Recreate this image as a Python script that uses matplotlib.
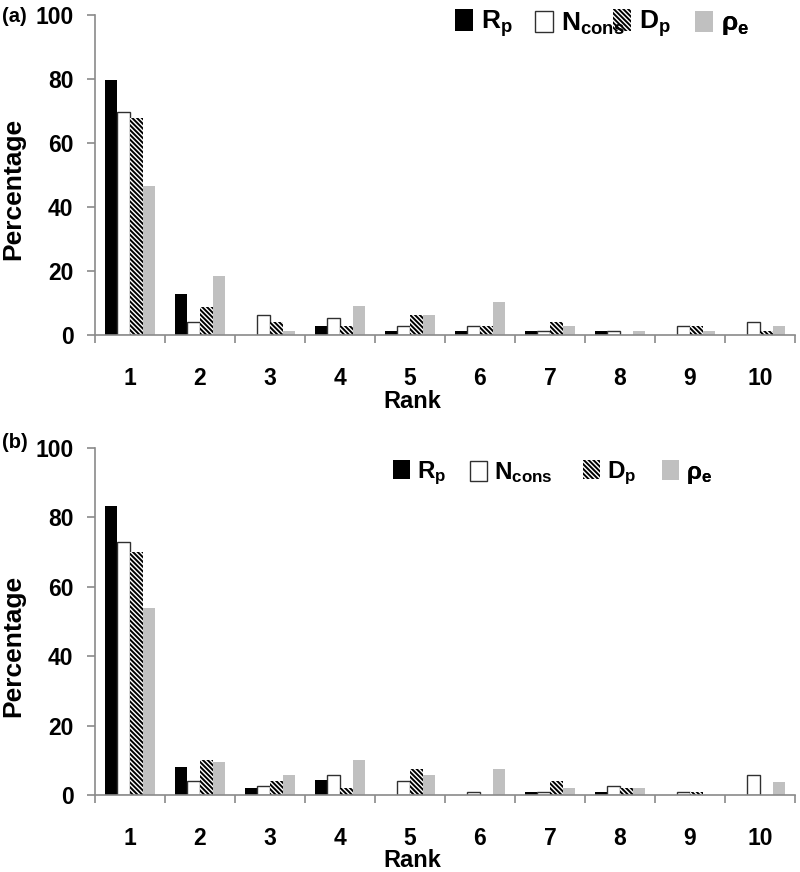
import matplotlib
matplotlib.use("Agg")
import matplotlib.pyplot as plt
from matplotlib.patches import Patch
import numpy as np

plt.rcParams['font.family'] = ['Liberation Sans', 'DejaVu Sans']
plt.rcParams['font.weight'] = 'bold'
plt.rcParams['mathtext.fontset'] = 'custom'
plt.rcParams['mathtext.bf'] = 'Liberation Sans:bold'
plt.rcParams['mathtext.rm'] = 'Liberation Sans:bold'
plt.rcParams['hatch.linewidth'] = 1.4

ranks = [1, 2, 3, 4, 5, 6, 7, 8, 9, 10]
series_labels = [r'$\mathbf{R_p}$', r'$\mathbf{N_{cons}}$', r'$\mathbf{D_p}$', r'$\mathbf{ρ_e}$']

# panel (a)
a_rp = [79.7, 12.9, 0, 2.8, 1.4, 1.4, 1.4, 1.4, 0, 0]
a_ncons = [69.8, 4.0, 6.1, 5.4, 2.8, 2.8, 1.4, 1.4, 2.8, 4.2]
a_dp = [67.9, 8.9, 4.2, 2.8, 6.1, 2.8, 4.2, 0, 2.8, 1.4]
a_rho = [46.5, 18.3, 1.4, 9.0, 6.1, 10.3, 2.8, 1.4, 1.4, 2.8]

# panel (b)
b_rp = [83.4, 8.2, 1.9, 4.4, 0, 0, 0.8, 0.8, 0, 0]
b_ncons = [72.9, 3.9, 2.5, 5.7, 3.9, 0.8, 0.8, 2.6, 0.8, 5.7]
b_dp = [69.9, 10.1, 3.9, 1.9, 7.5, 0, 3.9, 1.9, 0.8, 0]
b_rho = [54.0, 9.4, 5.7, 10.1, 5.7, 7.5, 1.9, 1.9, 0, 3.8]

GRAY = '#c0c0c0'
AXIS = '#8a8a8a'
styles = [
    dict(color='black', linewidth=0),
    dict(facecolor='white', edgecolor='#303030', linewidth=1.0),
    dict(facecolor='white', edgecolor='black', linewidth=0, hatch='\\' * 7),
    dict(color=GRAY, linewidth=0),
]

W = 800
H = 872
fig = plt.figure(figsize=(W / 100, H / 100), dpi=100)


def draw_panel(rect, series, tag, tag_y, ylab_y, rank_y):
    ax = fig.add_axes(rect)
    x = np.array(ranks)
    bw = 0.181
    for i, vals in enumerate(series):
        ax.bar(x + (i - 1.5) * bw, vals, bw, **styles[i])
    ax.set_xlim(0.5, 10.5)
    ax.set_ylim(0, 100)
    ax.set_yticks([0, 20, 40, 60, 80, 100])
    ax.set_xticks(np.arange(0.5, 11, 1))
    ax.set_xticklabels([])
    ax.set_xticks(ranks, minor=True)
    ax.set_xticklabels([str(r) for r in ranks], minor=True)
    for s in ['top', 'right']:
        ax.spines[s].set_visible(False)
    for s in ['left', 'bottom']:
        ax.spines[s].set_color(AXIS)
        ax.spines[s].set_linewidth(1.2)
    ax.tick_params(axis='y', which='major', length=5.5, width=1.2, color=AXIS,
                   labelsize=16.5, pad=10)
    ax.tick_params(axis='x', which='major', length=6, width=1.2, color=AXIS)
    ax.tick_params(axis='x', which='minor', length=0, labelsize=16.5, pad=23)
    ax.set_ylabel('Percentage', fontsize=19, fontweight='bold')
    ax.yaxis.set_label_coords(-70 / 700, ylab_y)
    ax.set_xlabel('Rank', fontsize=17, fontweight='bold')
    ax.xaxis.set_label_coords(0.454, rank_y)
    fig.text(2 / W, 1 - tag_y / H, tag, fontsize=14.5, fontweight='bold', va='center')
    return ax


ax_a = draw_panel([95 / W, 1 - 335 / H, 700 / W, 320 / H],
                  [a_rp, a_ncons, a_dp, a_rho], '(a)', 16, 0.456, -0.172)
ax_b = draw_panel([95 / W, 1 - 795 / H, 700 / W, 347 / H],
                  [b_rp, b_ncons, b_dp, b_rho], '(b)', 442, 0.43, -0.156)


def legend_row(ax, xs, y, size):
    for i, xpos in enumerate(xs):
        h = Patch(label=series_labels[i], **styles[i])
        leg = ax.legend(handles=[h], loc='center left', bbox_to_anchor=(xpos / W, 1 - y / H),
                        bbox_transform=fig.transFigure, frameon=False, fontsize=size,
                        handlelength=0.7, handleheight=0.85, handletextpad=0.3,
                        borderpad=0, borderaxespad=0)
        # earlier entries on top so a long label stays readable
        leg.set_zorder(10 - i)
        ax.add_artist(leg)


legend_row(ax_a, [455, 535, 613, 695], 24, 19)
legend_row(ax_b, [393, 470, 583, 662], 473, 17.5)

fig.savefig('out.png', dpi=100)
